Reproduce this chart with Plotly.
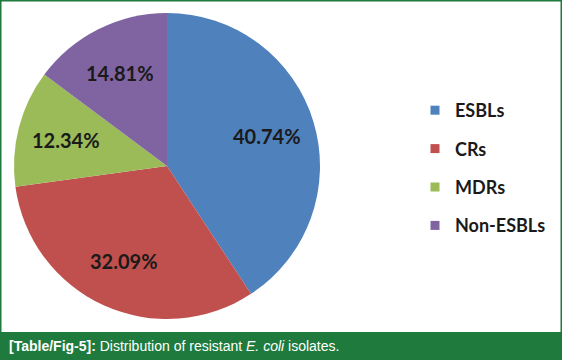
import math
import plotly.graph_objects as go

categories = ["ESBLs", "CRs", "MDRs", "Non-ESBLs"]
percentages = [40.74, 32.09, 12.34, 14.81]
colors = ["#4F81BD", "#C0504D", "#9BBB59", "#8064A2"]
caption_bold = "[Table/Fig-5]:"
caption_rest = "Distribution of resistant <i>E. coli</i> isolates."

W, H = 562, 360
GREEN = "#1f7b3d"
PIE_L, PIE_R, PIE_T, PIE_B = 14, 320, 13, 319  # pixel box of pie domain
LABEL_R = 0.68  # radial fraction for labels

fig = go.Figure()

fig.add_trace(go.Pie(
    labels=categories,
    values=percentages,
    textinfo="none",
    sort=False,
    direction="clockwise",
    rotation=0,
    marker=dict(colors=colors, line=dict(width=0)),
    domain=dict(x=[PIE_L / W, PIE_R / W], y=[(H - PIE_B) / H, (H - PIE_T) / H]),
    showlegend=False,
    hoverinfo="skip",
))

for i, (name, col) in enumerate(zip(categories, colors)):
    fig.add_trace(go.Scatter(
        x=[None], y=[None], mode="markers", name=name,
        marker=dict(symbol="square", size=9, color=col),
        legendgroup=f"g{i}", showlegend=True,
    ))

# slice labels placed at mid-angle of each slice
cx = (PIE_L + PIE_R) / 2
cy = (PIE_T + PIE_B) / 2
R = (PIE_R - PIE_L) / 2
total = sum(percentages)
annotations = []
cum = 0.0
for v in percentages:
    mid = (cum + v / 2) / total * 2 * math.pi
    cum += v
    px = cx + LABEL_R * R * math.sin(mid)
    py = cy - LABEL_R * R * math.cos(mid)
    annotations.append(dict(
        text=f"{v:.2f}%", xref="paper", yref="paper", x=px / W, y=(H - py) / H,
        xanchor="center", yanchor="middle", showarrow=False,
        font=dict(family="Lato", size=20, color="#1a1a1a", weight="bold"),
    ))

annotations.append(dict(
    text=f"<b>{caption_bold}</b> {caption_rest}", xref="paper", yref="paper",
    x=7 / W, y=14 / H, xanchor="left", yanchor="middle", showarrow=False,
    font=dict(family="Liberation Sans, Arial", size=14, color="white"),
))

fig.update_layout(
    width=W, height=H,
    margin=dict(l=0, r=0, t=0, b=0),
    paper_bgcolor="white",
    plot_bgcolor="white",
    xaxis=dict(visible=False),
    yaxis=dict(visible=False),
    legend=dict(
        x=415 / W, y=(H - 92) / H, xanchor="left", yanchor="top",
        font=dict(family="Lato", size=18, color="#1a1a1a", weight="bold"),
        tracegroupgap=12,
        bgcolor="rgba(0,0,0,0)",
    ),
    shapes=[
        dict(type="rect", xref="paper", yref="paper", x0=0, x1=1, y0=0, y1=28 / H,
             fillcolor=GREEN, line=dict(width=0), layer="above"),
        dict(type="rect", xref="paper", yref="paper", x0=0, x1=1, y0=0, y1=1,
             fillcolor="rgba(0,0,0,0)", line=dict(color=GREEN, width=3), layer="above"),
    ],
    annotations=annotations,
)

fig.write_html("out.html")
